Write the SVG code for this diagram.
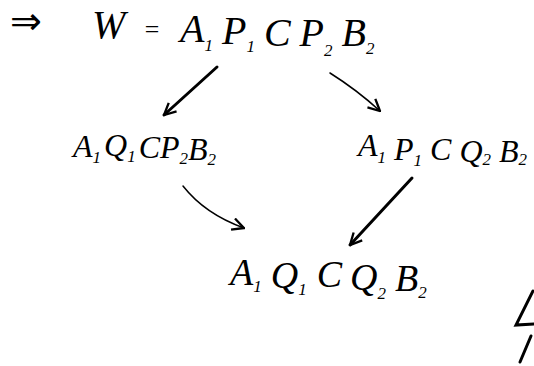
<svg xmlns="http://www.w3.org/2000/svg" width="534" height="366" viewBox="0 0 534 366">
<style>
.t{font-family:"Liberation Serif","DejaVu Serif",serif;font-style:italic;fill:#000}
.s{font-size:17px}
.thick{stroke:#000;stroke-width:3;fill:none;stroke-linecap:round}
.thin{stroke:#000;stroke-width:1.5;fill:none;stroke-linecap:round}
</style>
<defs>
<marker id="ah" viewBox="0 0 12 12" refX="11" refY="6" markerWidth="14" markerHeight="14" markerUnits="userSpaceOnUse" orient="auto">
<path d="M1,1 L11,6 L1,11" fill="none" stroke="#000" stroke-width="2"/>
</marker>
</defs>
<rect width="534" height="366" fill="#fff"/>
<g id="top">
<text x="10" y="34" font-size="38" font-family="'DejaVu Sans',sans-serif" fill="#000">⇒</text>
<text class="t" x="92" y="38" font-size="40">W</text>
<text class="t" x="143" y="38" font-size="26">=</text>
<text class="t" x="180" y="42" font-size="40">A<tspan class="s" dy="9">1</tspan><tspan dx="9" dy="-7">P</tspan><tspan class="s" dy="8">1</tspan><tspan dx="9" dy="-6">C</tspan><tspan dx="9">P</tspan><tspan class="s" dy="10">2</tspan><tspan dx="9" dy="-10">B</tspan><tspan class="s" dy="8">2</tspan></text>
</g>
<g id="left">
<text class="t" x="73" y="157" font-size="32">A<tspan class="s" dy="6">1</tspan><tspan dx="3" dy="-7">Q</tspan><tspan class="s" dy="6">1</tspan><tspan dx="3" dy="-4">C</tspan><tspan>P</tspan><tspan class="s" dy="6">2</tspan><tspan dy="-4">B</tspan><tspan class="s" dy="5">2</tspan></text>
</g>
<g id="right">
<text class="t" x="358" y="156" font-size="32">A<tspan class="s" dy="7">1</tspan><tspan dx="8" dy="-3">P</tspan><tspan class="s" dy="6">1</tspan><tspan dx="8" dy="-6">C</tspan><tspan dx="8" dy="2">Q</tspan><tspan class="s" dy="3">2</tspan><tspan dx="8" dy="-3">B</tspan><tspan class="s" dy="3">2</tspan></text>
</g>
<g id="bottom">
<text class="t" x="230" y="285" font-size="38">A<tspan class="s" dy="7">1</tspan><tspan dx="9" dy="-4">Q</tspan><tspan class="s" dy="7">1</tspan><tspan dx="10" dy="-8">C</tspan><tspan dx="8" dy="3">Q</tspan><tspan class="s" dy="9">2</tspan><tspan dx="9" dy="-8">B</tspan><tspan class="s" dy="7">2</tspan></text>
</g>
<g id="connectors">
<path class="thick" d="M217,67 L164,115" marker-end="url(#ah)"/>
<path class="thin" d="M330,73 Q357,90 380,111" marker-end="url(#ah)"/>
<path class="thin" d="M183,186 Q205,214 244,228" marker-end="url(#ah)"/>
<path class="thick" d="M412,178 L350,245" marker-end="url(#ah)"/>
</g>
<g id="fragment">
<path class="thick" d="M533,291 L516,325 L534,324"/>
<path class="thick" d="M531,336 L520,362"/>
</g>
</svg>
